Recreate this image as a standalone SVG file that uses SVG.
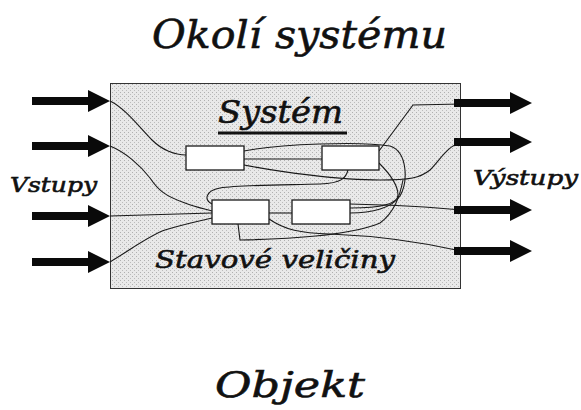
<svg xmlns="http://www.w3.org/2000/svg" width="581" height="410" viewBox="0 0 581 410">
<defs>
<pattern id="dots" width="4" height="4" patternUnits="userSpaceOnUse">
<rect width="4" height="4" fill="#e9e9e9"/>
<rect x="0" y="0" width="1" height="1" fill="#b0b0b0"/>
<rect x="2" y="2" width="1" height="1" fill="#bcbcbc"/>
</pattern>
<polygon id="arr" points="0,-4 56,-4 56,-11 78,0 56,11 56,4 0,4"/>
</defs>
<style>
.t{font-family:"DejaVu Serif","Liberation Serif",serif;font-style:italic;fill:#111;stroke:#111;stroke-width:0.6}
.w{fill:none;stroke:#1a1a1a;stroke-width:1.1}
.b{fill:#fff;stroke:#1a1a1a;stroke-width:1.3}
.a{fill:#0a0a0a}
</style>
<rect width="581" height="410" fill="#fff"/>
<text class="t" x="152" y="48" font-size="40" textLength="295" lengthAdjust="spacingAndGlyphs">Okolí systému</text>
<g id="system">
<rect x="110.5" y="83.5" width="350" height="205" fill="url(#dots)" stroke="#333" stroke-width="1"/>
<text class="t" x="218" y="123" font-size="31" textLength="125" lengthAdjust="spacingAndGlyphs">Systém</text>
<rect x="218" y="131.5" width="129" height="3" fill="#111"/>
<text class="t" x="155" y="268" font-size="25" textLength="240" lengthAdjust="spacingAndGlyphs">Stavové veličiny</text>
</g>
<g id="connectors">
<path class="w" d="M110,101 C125,108 140,128 152,140 C162,150 175,155 186,155"/>
<path class="w" d="M110,146 C125,152 140,165 150,178 C158,190 165,196 185,203 C195,207 205,209 212,211"/>
<path class="w" d="M110,216 L212,213"/>
<path class="w" d="M110,262 C130,250 150,235 165,230 C185,224 200,221 212,218"/>
<path class="w" d="M244,151 C280,144 360,141 390,146 C408,152 408,182 400,196 C392,208 372,213 350,213"/>
<path class="w" d="M244,159 L322,159"/>
<path class="w" d="M244,165 C280,172 340,180 380,180 C410,180 420,178 430,170 C440,160 448,145 461,143"/>
<path class="w" d="M379,151 L413,105 L461,104"/>
<path class="w" d="M379,163 C388,172 398,184 398,195 C398,203 385,208 350,208"/>
<path class="w" d="M348,170 C346,178 342,183 320,184 C280,185 240,185 220,188 C205,191 204,200 212,204"/>
<path class="w" d="M238,224 L240,240 C290,239 350,236 380,223 C395,212 400,195 403,180"/>
<path class="w" d="M269,213 L292,213"/>
<path class="w" d="M350,204 C390,205 430,207 461,210"/>
<path class="w" d="M269,219 C285,230 300,233 330,234 C380,236 430,244 461,251"/>
</g>
<g id="box1"><rect class="b" x="186" y="146" width="58" height="24"/></g>
<g id="box2"><rect class="b" x="322" y="146" width="57" height="24"/></g>
<g id="box3"><rect class="b" x="212" y="200" width="57" height="24"/></g>
<g id="box4"><rect class="b" x="292" y="200" width="58" height="24"/></g>
<g id="inputs">
<use href="#arr" class="a" x="32" y="101"/>
<use href="#arr" class="a" x="32" y="146"/>
<use href="#arr" class="a" x="32" y="216"/>
<use href="#arr" class="a" x="32" y="262"/>
<text class="t" x="10" y="192" font-size="21" textLength="87" lengthAdjust="spacingAndGlyphs">Vstupy</text>
</g>
<g id="outputs">
<use href="#arr" class="a" x="454" y="103"/>
<use href="#arr" class="a" x="454" y="142"/>
<use href="#arr" class="a" x="454" y="210"/>
<use href="#arr" class="a" x="454" y="251"/>
<text class="t" x="473" y="185" font-size="21" textLength="105" lengthAdjust="spacingAndGlyphs">Výstupy</text>
</g>
<text class="t" x="215" y="397" font-size="36" textLength="150" lengthAdjust="spacingAndGlyphs">Objekt</text>
</svg>
